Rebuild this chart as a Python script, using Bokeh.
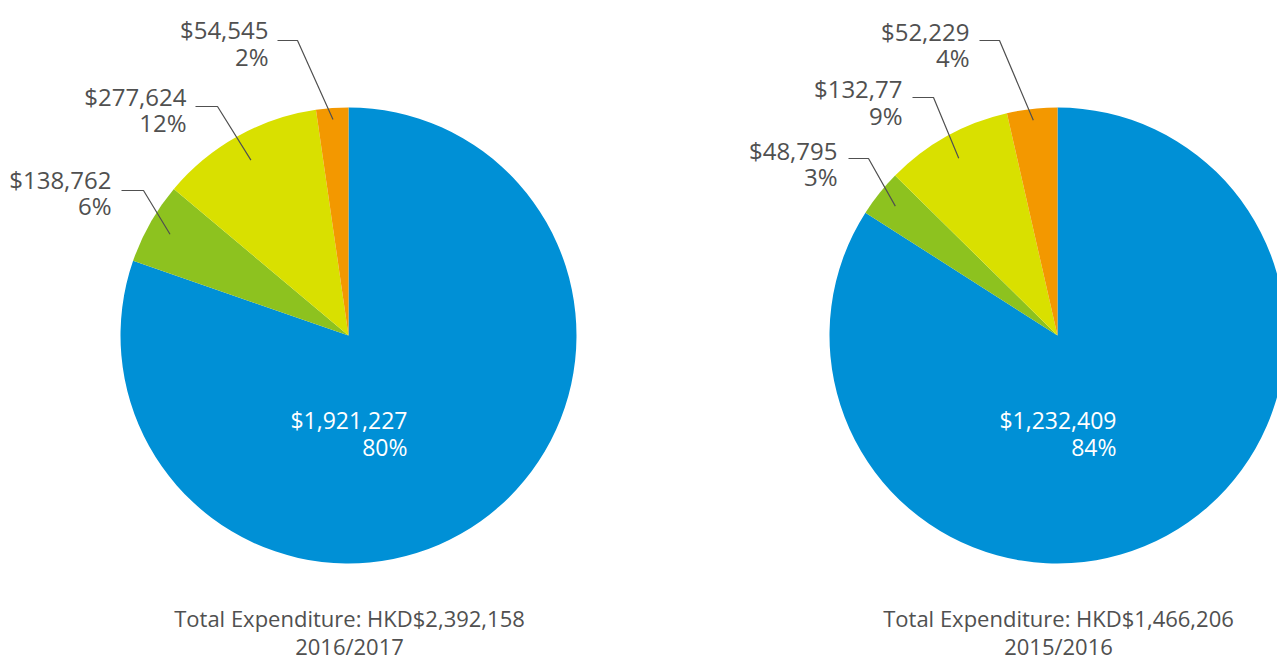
import math
from bokeh.plotting import figure
from bokeh.models import Range1d
from bokeh.core.properties import value
from bokeh.embed import file_html
from bokeh.resources import INLINE

# ---------------- data ----------------
categories = ["Category A", "Category B", "Category C", "Category D"]
values_1617 = [1921227, 138762, 277624, 54545]
values_1516 = [1232409, 48795, 132773, 52229]
labels_1617 = ["$1,921,227", "$138,762", "$277,624", "$54,545"]
labels_1516 = ["$1,232,409", "$48,795", "$132,77", "$52,229"]
pct_1617 = ["80%", "6%", "12%", "2%"]
pct_1516 = ["84%", "3%", "9%", "4%"]
totals = ["Total Expenditure: HKD$2,392,158", "Total Expenditure: HKD$1,466,206"]
years = ["2016/2017", "2015/2016"]

# ---------------- style / layout ----------------
colors = ["#0090d6", "#8dc21f", "#d9e000", "#f39800"]
W, H = 1277, 660
R = 228
FONT = value("Open Sans")
GRAY = "#505050"

def Y(py):
    return H - py

pies = [
    dict(values=values_1617, labels=labels_1617, pcts=pct_1617, cx=348, cy=335,
         total=totals[0], year=years[0],
         # per small slice index: (text right x, line1 y, line2 y, leader y, leader x0, leader x1, r factor)
         lay={3: (268, 29, 56, 40, 277, 297, 0.95),
              2: (186, 96, 122, 106, 195, 217, 0.88),
              1: (111, 179, 205, 190, 121, 143, 0.90)}),
    dict(values=values_1516, labels=labels_1516, pcts=pct_1516, cx=1057, cy=335,
         total=totals[1], year=years[1],
         lay={3: (969, 31, 57, 40, 979, 999, 0.95),
              2: (902, 88, 115, 97, 912, 933, 0.89),
              1: (837, 150, 176, 158, 848, 868, 0.91)}),
]

p = figure(width=W, height=H, output_backend="svg", toolbar_location=None,
           x_range=Range1d(0, W), y_range=Range1d(0, H),
           x_axis_type=None, y_axis_type=None, min_border=0)
p.outline_line_color = None
p.background_fill_color = "white"
p.border_fill_color = "white"

for pie in pies:
    vals = pie["values"]
    tot = sum(vals)
    cx, cy = pie["cx"], Y(pie["cy"])
    # anticlockwise from 12 o'clock: orange, yellow, green, blue
    a = math.pi / 2
    starts, ends, mids = [0] * 4, [0] * 4, [0] * 4
    for i in [3, 2, 1, 0]:
        span = vals[i] / tot * 2 * math.pi
        starts[i], ends[i] = a, a + span
        mids[i] = a + span / 2
        a += span
    p.wedge(x=[cx] * 4, y=[cy] * 4, radius=R, start_angle=starts, end_angle=ends,
            fill_color=colors, line_color=None)

    # big slice label (white)
    p.text(x=[cx + 59], y=[Y(pie["cy"] + 84)], text=[pie["labels"][0]],
           text_color="white", text_font=FONT, text_font_size="23px",
           text_align="right", text_baseline="middle")
    p.text(x=[cx + 59], y=[Y(pie["cy"] + 111)], text=[pie["pcts"][0]],
           text_color="white", text_font=FONT, text_font_size="23px",
           text_align="right", text_baseline="middle")

    # small slice labels with leader lines
    xs, ys = [], []
    for i, (tx, y1, y2, ly, lx0, lx1, rf) in pie["lay"].items():
        ex = cx + rf * R * math.cos(mids[i])
        ey = cy + rf * R * math.sin(mids[i])
        xs.append([lx0, lx1, ex])
        ys.append([Y(ly), Y(ly), ey])
        p.text(x=[tx], y=[Y(y1)], text=[pie["labels"][i]], text_color=GRAY,
               text_font=FONT, text_font_size="24px", text_align="right",
               text_baseline="middle")
        p.text(x=[tx], y=[Y(y2)], text=[pie["pcts"][i]], text_color=GRAY,
               text_font=FONT, text_font_size="24px", text_align="right",
               text_baseline="middle")
    p.multi_line(xs=xs, ys=ys, line_color=GRAY, line_width=1.2)

    # caption
    p.text(x=[pie["cx"] + 1], y=[Y(617)], text=[pie["total"]], text_color=GRAY,
           text_font=FONT, text_font_size="22px", text_align="center",
           text_baseline="middle")
    p.text(x=[pie["cx"] + 1], y=[Y(645)], text=[pie["year"]], text_color=GRAY,
           text_font=FONT, text_font_size="22px", text_align="center",
           text_baseline="middle")

open("out.html", "w").write(file_html(p, INLINE))
